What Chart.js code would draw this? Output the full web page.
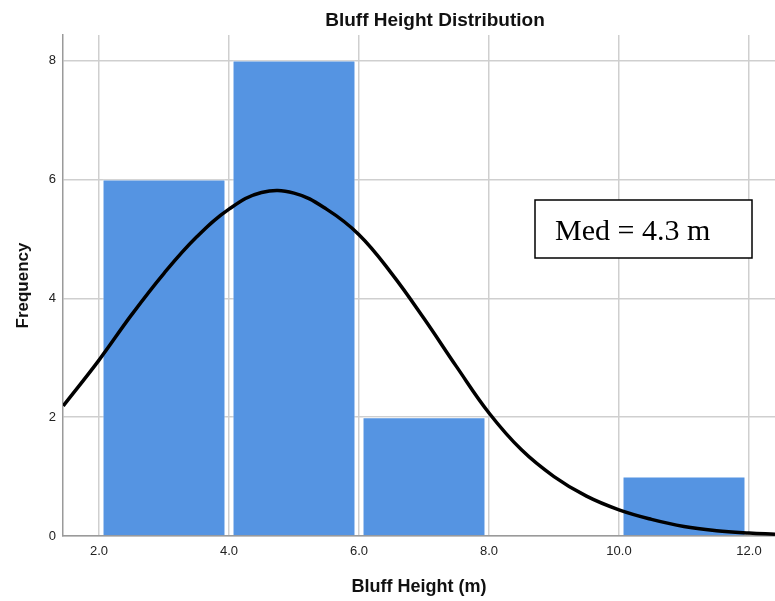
<!DOCTYPE html>
<html>
<head>
<meta charset="utf-8">
<title>Bluff Height Distribution</title>
<script src="https://cdn.jsdelivr.net/npm/chart.js@4/dist/chart.umd.min.js"></script>
<style>
  html, body { margin: 0; padding: 0; background: #fff; }
  #wrap { width: 775px; height: 601px; position: relative; }
</style>
</head>
<body>
<div id="wrap"><canvas id="histChart" width="775" height="601"></canvas></div>
<script>
// -----------------------------------------
// DATA
// -----------------------------------------
const BIN_MIDS = [3, 5, 7, 9, 11];          // bins 2-4, 4-6, 6-8, 8-10, 10-12
const COUNTS   = [6, 8, 2, 0, 1];
const X_TICKS  = [2, 4, 6, 8, 10, 12];
const Y_TICKS  = [0, 2, 4, 6, 8];

// fitted normal curve
const CURVE_X = [1.45, 2.0, 2.5, 3.0, 3.5, 4.0, 4.5, 5.0, 5.5, 6.0, 6.5,
                 7.0, 7.5, 8.0, 8.5, 9.0, 9.5, 10.0, 10.5, 11.0, 11.5, 12.0, 12.4];
const CURVE_Y = [2.19, 2.96, 3.72, 4.42, 5.03, 5.50, 5.78, 5.77, 5.50, 5.07, 4.42,
                 3.66, 2.85, 2.07, 1.45, 1.00, 0.67, 0.44, 0.28, 0.16, 0.09, 0.05, 0.03];

const TITLE    = 'Bluff Height Distribution';
const X_TITLE  = 'Bluff Height (m)';
const Y_TITLE  = 'Frequency';
const MED_TEXT = 'Med = 4.3 m';

// -----------------------------------------
// Styles
// -----------------------------------------
const SANS     = "'Liberation Sans', Arial, sans-serif";
const SERIF    = "'Liberation Serif', 'Times New Roman', serif";
const BAR_BLUE = '#5594e2';
const GRID     = '#cfcfcf';
const AXIS     = '#9a9a9a';

// -----------------------------------------
// Plugin: chart title + median text box
// -----------------------------------------
const extrasPlugin = {
  id: 'extras',
  afterDraw(chart) {
    const ctx = chart.ctx;
    const area = chart.chartArea;
    ctx.save();

    // title
    ctx.fillStyle = '#111';
    ctx.font = 'bold 19px ' + SANS;
    ctx.textAlign = 'center';
    ctx.textBaseline = 'middle';
    ctx.fillText(TITLE, 435, 21);

    // median box (upper right of plot)
    const bx = area.left + 472, by = area.top + 165, bw = 217, bh = 58;
    ctx.fillStyle = '#fff';
    ctx.fillRect(bx, by, bw, bh);
    ctx.strokeStyle = '#000';
    ctx.lineWidth = 1.5;
    ctx.strokeRect(bx, by, bw, bh);
    ctx.fillStyle = '#000';
    ctx.font = '30px ' + SERIF;
    ctx.textAlign = 'left';
    ctx.textBaseline = 'alphabetic';
    ctx.fillText(MED_TEXT, bx + 20, by + 40);

    ctx.restore();
  }
};

// -----------------------------------------
// Build chart
// -----------------------------------------
const barData   = BIN_MIDS.map((x, i) => ({ x, y: COUNTS[i] }));
const curveData = CURVE_X.map((x, i) => ({ x, y: CURVE_Y[i] }));

new Chart(document.getElementById('histChart'), {
  type: 'bar',
  data: {
    datasets: [
      {
        type: 'line',
        data: curveData,
        borderColor: '#000',
        borderWidth: 3.5,
        pointRadius: 0,
        tension: 0.4,
        fill: false,
        order: 0
      },
      {
        type: 'bar',
        data: barData,
        backgroundColor: BAR_BLUE,
        borderColor: 'rgba(255,255,255,0.55)',
        borderWidth: 1,
        barPercentage: 0.946,
        categoryPercentage: 1.0,
        order: 1
      }
    ]
  },
  options: {
    responsive: false,
    animation: false,
    layout: { padding: { top: 35, right: 0, left: 0, bottom: 0 } },
    plugins: {
      legend: { display: false },
      tooltip: { enabled: false },
      title: { display: false }
    },
    scales: {
      x: {
        type: 'linear',
        min: 1.446,
        max: 12.4,
        offset: false,
        afterBuildTicks: s => { s.ticks = X_TICKS.map(v => ({ value: v })); },
        afterFit: s => { s.height = 65; },
        grid: { color: GRID, lineWidth: 1.5, drawTicks: false, offset: false },
        border: { display: true, color: AXIS, width: 1.5 },
        ticks: {
          padding: 8,
          color: '#222',
          font: { family: SANS, size: 13 },
          callback: v => v.toFixed(1)
        },
        title: {
          display: true,
          text: X_TITLE,
          color: '#111',
          font: { family: SANS, size: 18, weight: 'bold' },
          padding: { top: 0, bottom: 3 }
        }
      },
      y: {
        min: 0,
        max: 8.43,
        afterBuildTicks: s => { s.ticks = Y_TICKS.map(v => ({ value: v })); },
        afterFit: s => { s.width = 63; },
        grid: { color: GRID, lineWidth: 1.5, drawTicks: false },
        border: { display: true, color: AXIS, width: 1.5 },
        ticks: {
          padding: 7,
          color: '#222',
          font: { family: SANS, size: 13 }
        },
        title: {
          display: true,
          text: Y_TITLE,
          color: '#111',
          font: { family: SANS, size: 17, weight: 'bold' },
          padding: { top: 13, bottom: 0 }
        }
      }
    }
  },
  plugins: [extrasPlugin]
});
</script>
</body>
</html>
